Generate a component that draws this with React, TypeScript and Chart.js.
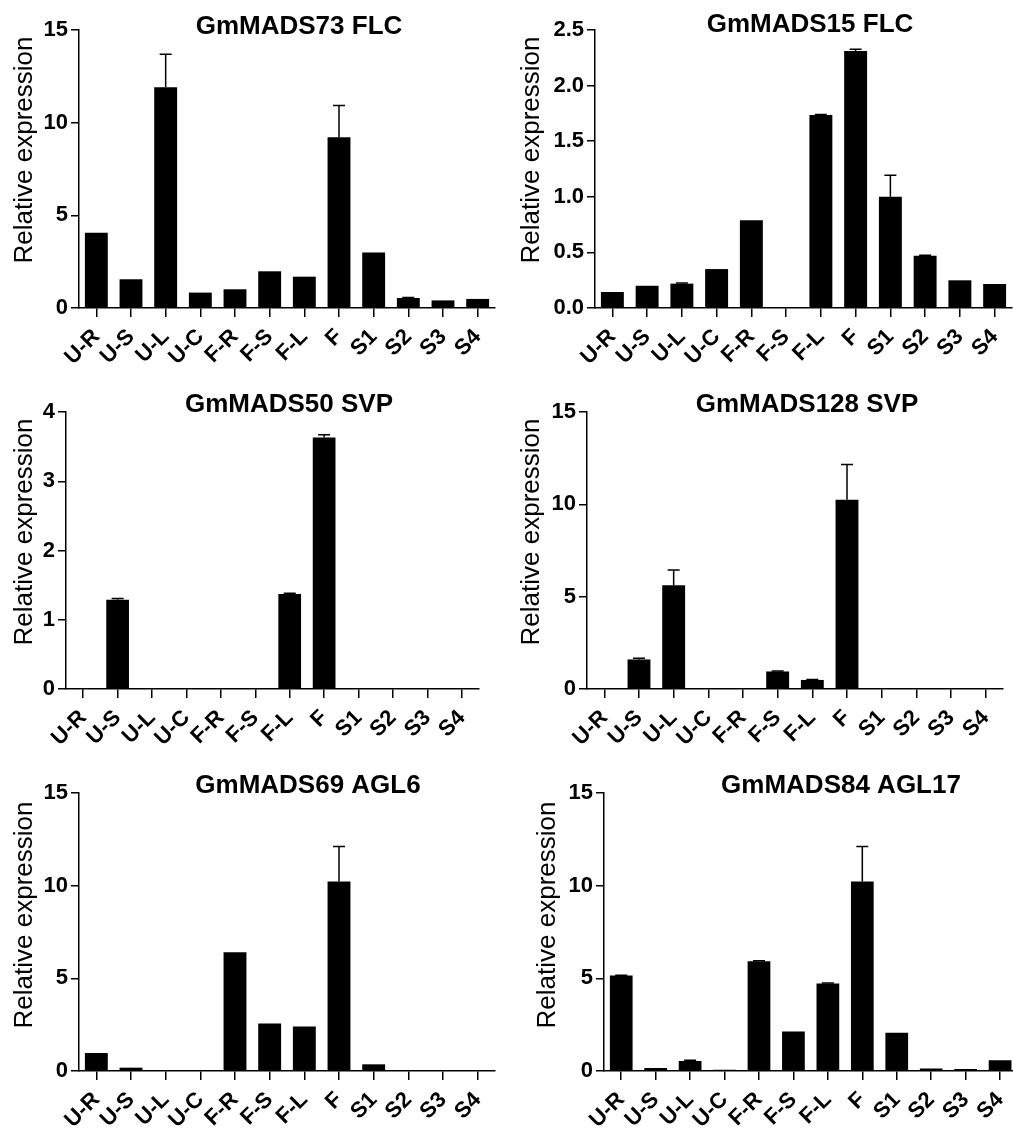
import React, { useEffect, useRef } from "react";
import { Chart, registerables } from "chart.js";

Chart.register(...registerables);

const CATEGORIES = ["U-R", "U-S", "U-L", "U-C", "F-R", "F-S", "F-L", "F", "S1", "S2", "S3", "S4"];

const FLC73_VALUES = [4.06, 1.55, 11.91, 0.83, 1.01, 1.98, 1.69, 9.21, 3.0, 0.54, 0.41, 0.49];
const FLC73_ERRORS = [0, 0, 1.78, 0, 0, 0, 0, 1.71, 0, 0.03, 0, 0];

const FLC15_VALUES = [0.144, 0.2, 0.219, 0.35, 0.788, 0, 1.736, 2.311, 1.001, 0.47, 0.249, 0.216];
const FLC15_ERRORS = [0, 0, 0.005, 0, 0, 0, 0.005, 0.015, 0.192, 0.005, 0, 0];

const SVP50_VALUES = [0, 1.29, 0, 0, 0, 0, 1.373, 3.63, 0, 0, 0, 0];
const SVP50_ERRORS = [0, 0.016, 0, 0, 0, 0, 0.01, 0.04, 0, 0, 0, 0];

const SVP128_VALUES = [0, 1.6, 5.62, 0, 0, 0.95, 0.49, 10.25, 0.05, 0, 0.05, 0];
const SVP128_ERRORS = [0, 0.06, 0.83, 0, 0, 0.02, 0.02, 1.91, 0, 0, 0, 0];

const AGL6_VALUES = [0.97, 0.18, 0.04, 0.01, 6.41, 2.56, 2.4, 10.23, 0.36, 0.04, 0.02, 0.05];
const AGL6_ERRORS = [0, 0, 0, 0, 0, 0, 0, 1.89, 0, 0, 0, 0];

const AGL17_VALUES = [5.15, 0.16, 0.54, 0.07, 5.92, 2.13, 4.72, 10.23, 2.07, 0.14, 0.11, 0.58];
const AGL17_ERRORS = [0.02, 0, 0.04, 0, 0.03, 0, 0.03, 1.89, 0, 0, 0, 0];

const Y_TITLE = "Relative expression";
const FONT = "'Liberation Sans', Arial, Helvetica, sans-serif";

type Panel = {
  title: string;
  values: number[];
  errors: number[];
  max: number;
  step: number;
  decimals: number;
  box: { left: number; top: number; width: number; height: number };
  area: { L: number; R: number; T: number; B: number };
  titlePos: { x: number; y: number };
  yTitlePos: { x: number; y: number };
};

const PANELS: Panel[] = [
  {
    title: "GmMADS73 FLC", values: FLC73_VALUES, errors: FLC73_ERRORS, max: 15, step: 5, decimals: 0,
    box: { left: 0, top: 0, width: 506, height: 375 },
    area: { L: 79, R: 495, T: 30, B: 308 },
    titlePos: { x: 299, y: 34 }, yTitlePos: { x: 25, y: 150 },
  },
  {
    title: "GmMADS15 FLC", values: FLC15_VALUES, errors: FLC15_ERRORS, max: 2.5, step: 0.5, decimals: 1,
    box: { left: 506, top: 0, width: 520, height: 375 },
    area: { L: 595, R: 1012, T: 30, B: 308 },
    titlePos: { x: 810, y: 32 }, yTitlePos: { x: 532, y: 150 },
  },
  {
    title: "GmMADS50 SVP", values: SVP50_VALUES, errors: SVP50_ERRORS, max: 4, step: 1, decimals: 0,
    box: { left: 0, top: 375, width: 506, height: 375 },
    area: { L: 66, R: 479, T: 412, B: 689 },
    titlePos: { x: 289, y: 412 }, yTitlePos: { x: 25, y: 532 },
  },
  {
    title: "GmMADS128 SVP", values: SVP128_VALUES, errors: SVP128_ERRORS, max: 15, step: 5, decimals: 0,
    box: { left: 506, top: 375, width: 520, height: 375 },
    area: { L: 587, R: 1003, T: 412, B: 689 },
    titlePos: { x: 807, y: 412 }, yTitlePos: { x: 532, y: 532 },
  },
  {
    title: "GmMADS69 AGL6", values: AGL6_VALUES, errors: AGL6_ERRORS, max: 15, step: 5, decimals: 0,
    box: { left: 0, top: 750, width: 506, height: 381 },
    area: { L: 79, R: 495, T: 793, B: 1071 },
    titlePos: { x: 308, y: 793 }, yTitlePos: { x: 25, y: 915 },
  },
  {
    title: "GmMADS84 AGL17", values: AGL17_VALUES, errors: AGL17_ERRORS, max: 15, step: 5, decimals: 0,
    box: { left: 506, top: 750, width: 520, height: 381 },
    area: { L: 604, R: 1020, T: 793, B: 1071 },
    titlePos: { x: 841, y: 793 }, yTitlePos: { x: 548, y: 915 },
  },
];

function PanelChart({ p }: { p: Panel }) {
  const ref = useRef<HTMLCanvasElement | null>(null);
  useEffect(() => {
    if (!ref.current) return;
    const { box, area } = p;
    const textPlugin = {
      id: "panelText",
      afterDatasetsDraw(chart: any) {
        const ctx = chart.ctx;
        const meta = chart.getDatasetMeta(0);
        const ys = chart.scales.y;
        ctx.save();
        ctx.strokeStyle = "#000";
        ctx.lineWidth = 1.5;
        p.errors.forEach((e, i) => {
          if (!e) return;
          const bar = meta.data[i];
          const x = bar.x;
          const y0 = ys.getPixelForValue(p.values[i]);
          const y1 = ys.getPixelForValue(p.values[i] + e);
          ctx.beginPath();
          ctx.moveTo(x, y0);
          ctx.lineTo(x, y1);
          ctx.moveTo(x - 6, y1);
          ctx.lineTo(x + 6, y1);
          ctx.stroke();
        });
        ctx.restore();
      },
      afterDraw(chart: any) {
        const ctx = chart.ctx;
        ctx.save();
        ctx.fillStyle = "#000";
        ctx.font = `bold 26px ${FONT}`;
        ctx.textAlign = "center";
        ctx.textBaseline = "alphabetic";
        ctx.fillText(p.title, p.titlePos.x - box.left, p.titlePos.y - box.top);
        ctx.translate(p.yTitlePos.x - box.left, p.yTitlePos.y - box.top);
        ctx.rotate(-Math.PI / 2);
        ctx.font = `26px ${FONT}`;
        ctx.textBaseline = "middle";
        ctx.fillText(Y_TITLE, 0, 0);
        ctx.restore();
      },
    };
    const chart = new Chart(ref.current, {
      type: "bar",
      data: {
        labels: CATEGORIES,
        datasets: [
          {
            data: p.values,
            backgroundColor: "#000",
            borderWidth: 0,
            barPercentage: 0.66,
            categoryPercentage: 1,
          },
        ],
      },
      options: {
        animation: false,
        responsive: false,
        devicePixelRatio: 1,
        layout: {
          padding: {
            left: 0,
            top: area.T - box.top,
            right: box.left + box.width - area.R,
            bottom: 0,
          },
        },
        plugins: {
          legend: { display: false },
          title: { display: false },
          tooltip: { enabled: false },
        },
        scales: {
          x: {
            type: "category",
            offset: true,
            grid: {
              display: true,
              offset: false,
              drawOnChartArea: false,
              drawTicks: true,
              tickLength: 9,
              color: "#000",
              lineWidth: 1.5,
            },
            border: { display: true, color: "#000", width: 1.5 },
            ticks: {
              autoSkip: false,
              minRotation: 45,
              maxRotation: 45,
              color: "#000",
              padding: 7,
              font: { family: FONT, size: 22, weight: "bold" },
            },
            afterFit: (s: any) => {
              s.height = box.top + box.height - area.B;
            },
          },
          y: {
            min: 0,
            max: p.max,
            grid: {
              drawOnChartArea: false,
              drawTicks: true,
              tickLength: 8,
              color: "#000",
              lineWidth: 1.5,
            },
            border: { display: true, color: "#000", width: 1.5 },
            ticks: {
              stepSize: p.step,
              color: "#000",
              padding: 3,
              font: { family: FONT, size: 22, weight: "bold" },
              callback: (v: any) => Number(v).toFixed(p.decimals),
            },
            afterFit: (s: any) => {
              s.width = area.L - box.left;
            },
          },
        },
      } as any,
      plugins: [textPlugin],
    });
    return () => chart.destroy();
  }, [p]);
  return (
    <canvas
      ref={ref}
      width={p.box.width}
      height={p.box.height}
      style={{
        position: "absolute",
        left: p.box.left,
        top: p.box.top,
        width: p.box.width,
        height: p.box.height,
      }}
    />
  );
}

export default function App() {
  return (
    <div
      style={{
        position: "absolute",
        left: 0,
        top: 0,
        width: 1013,
        height: 1131,
        overflow: "hidden",
        background: "#fff",
      }}
    >
      {PANELS.map((p) => (
        <PanelChart key={p.title} p={p} />
      ))}
    </div>
  );
}
